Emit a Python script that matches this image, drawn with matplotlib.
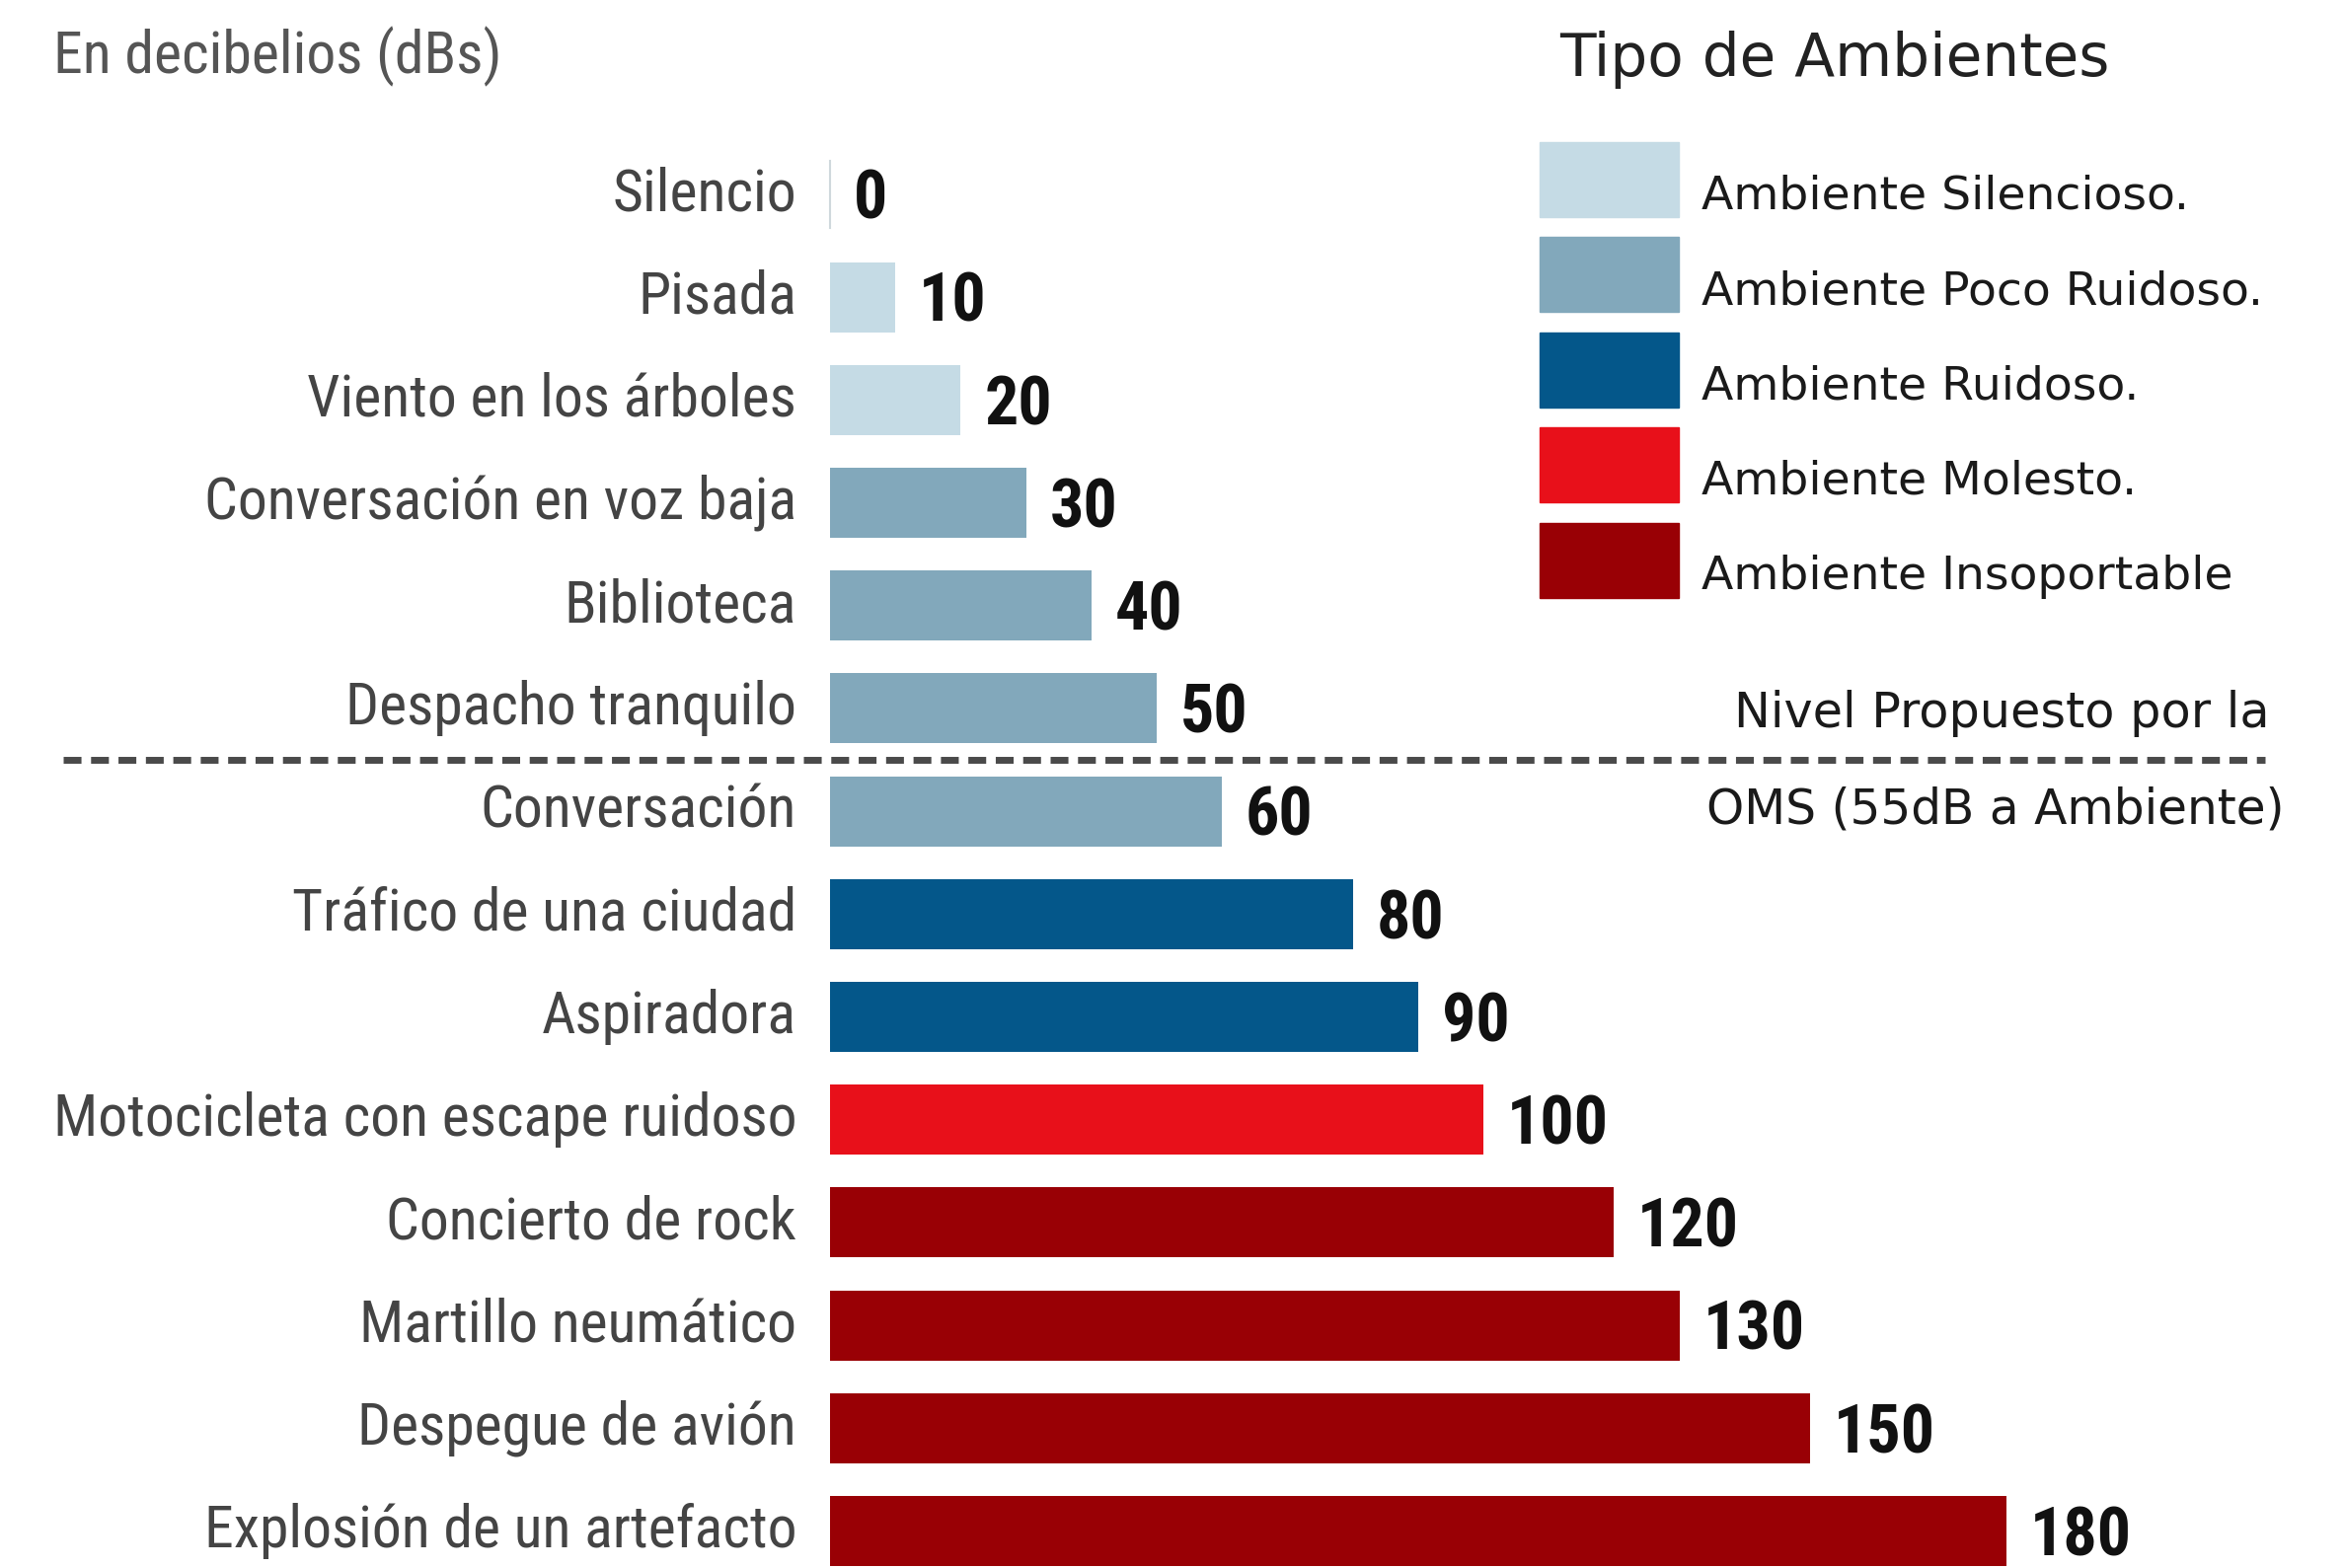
import matplotlib
matplotlib.use("Agg")
import matplotlib.pyplot as plt
from matplotlib import font_manager
from matplotlib.patches import Rectangle

# data
labels = ["Silencio", "Pisada", "Viento en los árboles", "Conversación en voz baja",
          "Biblioteca", "Despacho tranquilo", "Conversación", "Tráfico de una ciudad",
          "Aspiradora", "Motocicleta con escape ruidoso", "Concierto de rock",
          "Martillo neumático", "Despegue de avión", "Explosión de un artefacto"]
values = [0, 10, 20, 30, 40, 50, 60, 80, 90, 100, 120, 130, 150, 180]
tipo = [0, 0, 0, 1, 1, 1, 1, 2, 2, 3, 4, 4, 4, 4]

tipos = ["Ambiente Silencioso.", "Ambiente Poco Ruidoso.", "Ambiente Ruidoso.",
         "Ambiente Molesto.", "Ambiente Insoportable"]
colores = ["#c5dbe5", "#82a8bb", "#04578a", "#e8101a", "#990005"]

oms_texto = ["Nivel Propuesto por la", "OMS (55dB a Ambiente)"]

# pick a condensed font if one is installed
names = sorted({f.name for f in font_manager.fontManager.ttflist})
cond = None
for pref in ["Roboto Condensed", "Open Sans Condensed", "Liberation Sans Narrow",
             "DejaVu Sans Condensed", "Noto Sans Condensed"]:
    if pref in names:
        cond = pref
        break
stretch = "normal"
if cond is None:
    cond = "DejaVu Sans"
    stretch = "condensed"

fig = plt.figure(figsize=(23.75, 15.89), dpi=100)
ax = fig.add_axes([0, 0, 1, 1])
# x: 0 dB at 841 px, 6.62 px per dB ; y: row index, row 0 at 197 px, 104.2 px per row
ax.set_xlim(-127.0, 231.7)
ax.set_ylim(13.36, -1.89)
ax.axis("off")

ypos = list(range(len(labels)))
bar_cols = [colores[t] for t in tipo]
ax.barh(ypos, values, height=0.68, color=bar_cols)
# thin stub for the zero bar
ax.plot([0, 0], [ypos[0] - 0.33, ypos[0] + 0.33], color="#cfd8dc", lw=1.5)

for y, lab, v in zip(ypos, labels, values):
    ax.text(-5.1, y, lab, ha="right", va="center", fontsize=43, color="#444444",
            family=cond, stretch=stretch)
    ax.text(v + 3.6, y + 0.06, str(v), ha="left", va="center", fontsize=49,
            fontweight="bold", color="#111111", family=cond, stretch=stretch)

# OMS line, between Despacho tranquilo and Conversacion
y_oms = 5.5
ax.plot([-117.4, 219.6], [y_oms, y_oms], color="#4a4a4a", lw=5, dashes=(2.6, 1.4))
ax.text(220.3, 5.05, oms_texto[0], ha="right", va="center", fontsize=35.5,
        color="#1a1a1a", family="DejaVu Sans")
ax.text(222.6, 5.98, oms_texto[1], ha="right", va="center", fontsize=35,
        color="#1a1a1a", family="DejaVu Sans")

# header
ax.text(-118.8, -1.34, "En decibelios (dBs)", ha="left", va="center", fontsize=43,
        color="#555555", family=cond, stretch=stretch)

# legend
ax.text(111.6, -1.31, "Tipo de Ambientes", ha="left", va="center", fontsize=43,
        color="#222222", family="DejaVu Sans")
for i, (t, c) in enumerate(zip(tipos, colores)):
    y0 = -0.509 + i * 0.926
    ax.add_patch(Rectangle((108.6, y0), 21.3, 0.727, color=c))
    ax.text(133.4, y0 + 0.509 + 0.02, t, ha="left", va="center", fontsize=34,
            color="#1a1a1a", family="DejaVu Sans")

fig.savefig("out.png", dpi=100)
